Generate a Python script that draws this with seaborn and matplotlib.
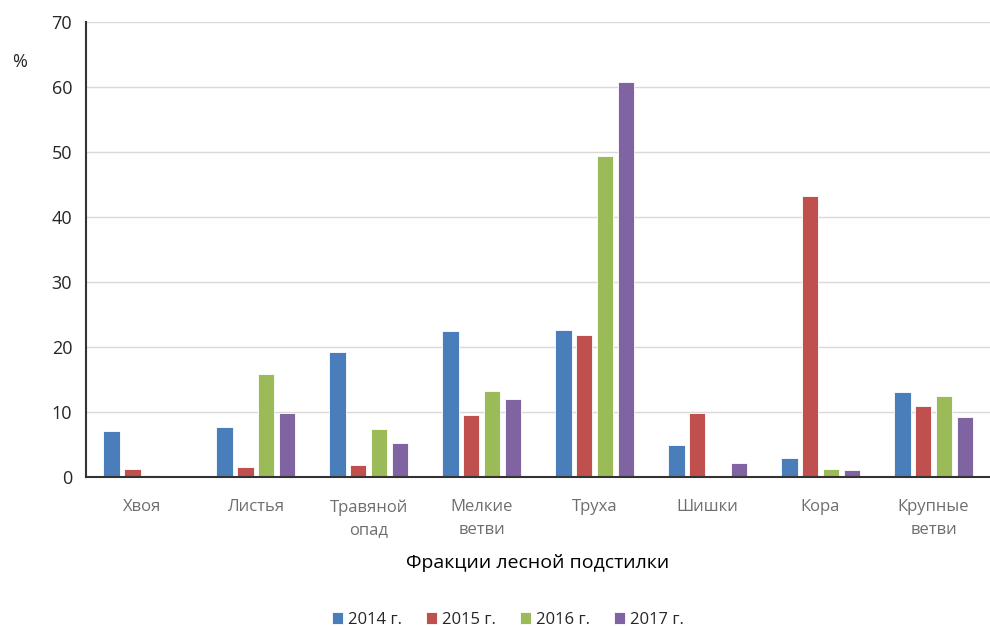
import matplotlib
matplotlib.use("Agg")
import matplotlib.pyplot as plt
import seaborn as sns
import pandas as pd

categories = ["Хвоя", "Листья", "Травяной\nопад", "Мелкие\nветви", "Труха", "Шишки", "Кора", "Крупные\nветви"]
years = ["2014 г.", "2015 г.", "2016 г.", "2017 г."]
v2014 = [7.1, 7.7, 19.2, 22.5, 22.6, 4.9, 3.0, 13.0]
v2015 = [1.3, 1.5, 1.9, 9.5, 21.8, 9.8, 43.2, 10.9]
v2016 = [0.25, 15.9, 7.4, 13.3, 49.4, 0.0, 1.2, 12.5]
v2017 = [0.0, 9.8, 5.2, 12.0, 60.8, 2.1, 1.1, 9.2]
colors = ["#4A7EBB", "#C0504D", "#9BBB59", "#8064A2"]

rows = []
for y, vals in zip(years, [v2014, v2015, v2016, v2017]):
    for c, v in zip(categories, vals):
        rows.append({"cat": c, "year": y, "val": v})
df = pd.DataFrame(rows)

sns.set_theme(style="white")
plt.rcParams["font.family"] = ["Open Sans", "DejaVu Sans"]

fig = plt.figure(figsize=(9.9, 6.26), dpi=100)
ax = fig.add_axes([0.087, 0.238, 0.913, 0.727])
sns.barplot(data=df, x="cat", y="val", hue="year", order=categories, hue_order=years,
            palette=colors, width=0.74, gap=0.2, saturation=1, ax=ax,
            edgecolor="#FFFFFF", linewidth=0.6, errorbar=None)

ax.set_ylim(0, 70)
ax.set_yticks(range(0, 71, 10))
ax.yaxis.grid(True, color="#D9D9D9", linewidth=1)
ax.set_axisbelow(True)
for s in ["top", "right"]:
    ax.spines[s].set_visible(False)
ax.spines["left"].set_color("#333333")
ax.spines["bottom"].set_color("#333333")
ax.spines["left"].set_linewidth(1.5)
ax.spines["bottom"].set_linewidth(1.5)
ax.tick_params(axis="y", labelsize=13, labelcolor="#262626", length=0, pad=10)
ax.tick_params(axis="x", labelsize=12, labelcolor="#6E6E6E", length=0, pad=16)
for t in ax.get_xticklabels():
    t.set_linespacing(1.55)
ax.set_ylabel("")
ax.set_xlabel("Фракции лесной подстилки", fontsize=14, color="#000000", labelpad=11)
fig.text(0.012, 0.893, "%", fontsize=13, color="#262626")

handles, labels = ax.get_legend_handles_labels()
ax.get_legend().remove()
fig.legend(handles, labels, loc="center", bbox_to_anchor=(0.513, 0.01), ncol=4, frameon=False,
           fontsize=12, handlelength=0.7, handleheight=0.7, handletextpad=0.3, columnspacing=1.4)

fig.savefig("out.png", dpi=100)
